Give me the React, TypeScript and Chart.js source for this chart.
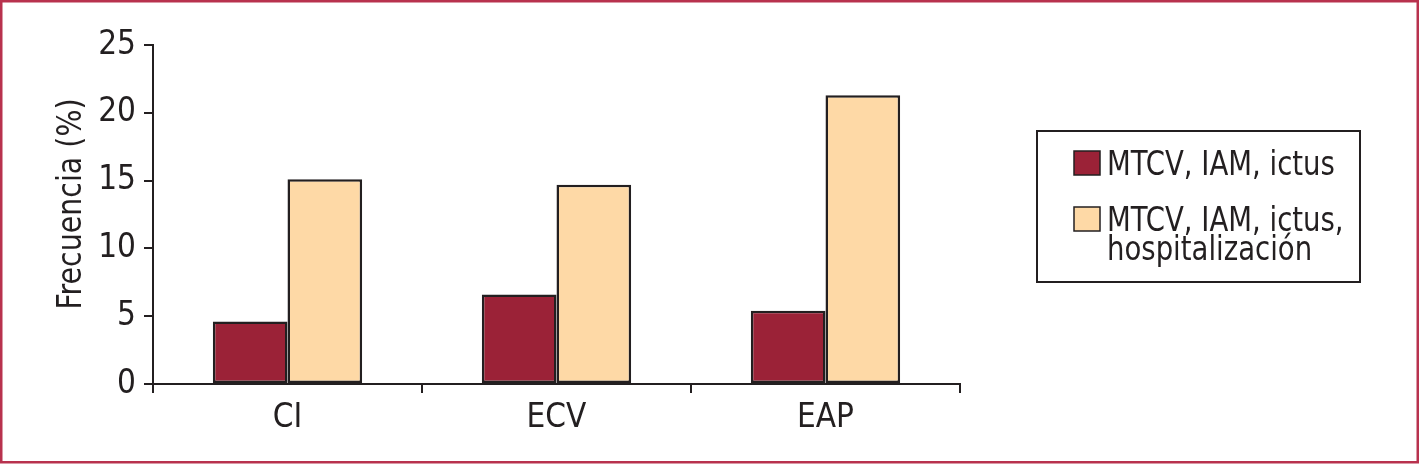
import React, { useEffect, useRef } from 'react';
import { Chart, registerables } from 'chart.js';

Chart.register(...registerables);

// ---- Data ----
const categories: string[] = ['CI', 'ECV', 'EAP'];
const seriesLabels: string[][] = [['MTCV, IAM, ictus'], ['MTCV, IAM, ictus,', 'hospitalización']];
const seriesPrimary: number[] = [4.6, 6.6, 5.4];
const seriesSecondary: number[] = [15.1, 14.7, 21.3];
const yTickValues: number[] = [0, 5, 10, 15, 20, 25];
const yAxisTitle = 'Frecuencia (%)';

// ---- Styles ----
const FONT = "'Liberation Sans Narrow', 'Arial Narrow', 'DejaVu Sans Condensed', sans-serif";
const INK = '#231f20';
const DARK = '#9b2237';
const LIGHT = '#fed9a6';
const FRAME = '#b8324e';

const framePlugin = {
  id: 'frame',
  beforeDraw(chart: any) {
    const { ctx, width, height } = chart;
    ctx.save();
    ctx.fillStyle = '#ffffff';
    ctx.fillRect(0, 0, width, height);
    ctx.strokeStyle = FRAME;
    ctx.lineWidth = 2.5;
    ctx.strokeRect(1.25, 1.25, width - 3.5, height - 3);
    ctx.restore();
  },
};

const yTitlePlugin = {
  id: 'yTitle',
  afterDraw(chart: any) {
    const { ctx } = chart;
    ctx.save();
    ctx.translate(72, 204);
    ctx.rotate(-Math.PI / 2);
    ctx.scale(0.93, 1);
    ctx.font = `34px ${FONT}`;
    ctx.fillStyle = INK;
    ctx.textAlign = 'center';
    ctx.textBaseline = 'middle';
    ctx.fillText(yAxisTitle, 0, 0);
    ctx.restore();
  },
};

const boxLegendPlugin = {
  id: 'boxLegend',
  afterDraw(chart: any) {
    const { ctx } = chart;
    ctx.save();
    ctx.strokeStyle = INK;
    ctx.lineWidth = 2;
    ctx.strokeRect(1037, 131, 323, 151);
    const swatchTops = [151, 207];
    const baselines = [[175], [231, 260]];
    chart.data.datasets.forEach((ds: any, i: number) => {
      ctx.fillStyle = ds.backgroundColor;
      ctx.fillRect(1074, swatchTops[i], 26, 24);
      ctx.lineWidth = 1.5;
      ctx.strokeStyle = INK;
      ctx.strokeRect(1074, swatchTops[i], 26, 24);
      const lines: string[] = seriesLabels[i];
      lines.forEach((line, j) => {
        ctx.save();
        ctx.translate(1107, baselines[i][j]);
        ctx.scale(0.9, 1);
        ctx.font = `34px ${FONT}`;
        ctx.fillStyle = INK;
        ctx.textAlign = 'left';
        ctx.textBaseline = 'alphabetic';
        ctx.fillText(line, 0, 0);
        ctx.restore();
      });
    });
    ctx.restore();
  },
};

export default function App() {
  const canvasRef = useRef<HTMLCanvasElement | null>(null);

  useEffect(() => {
    document.body.style.margin = '0';
    const canvas = canvasRef.current;
    if (!canvas) return;
    const chart = new Chart(canvas, {
      type: 'bar',
      data: {
        labels: categories,
        datasets: [
          {
            label: seriesLabels[0].join(' '),
            data: seriesPrimary,
            backgroundColor: DARK,
            borderColor: INK,
            borderWidth: 2.5,
            borderSkipped: false,
            categoryPercentage: 0.555,
            barPercentage: 1,
          },
          {
            label: seriesLabels[1].join(' '),
            data: seriesSecondary,
            backgroundColor: LIGHT,
            borderColor: INK,
            borderWidth: 2.5,
            borderSkipped: false,
            categoryPercentage: 0.555,
            barPercentage: 1,
          },
        ],
      },
      options: {
        animation: false,
        responsive: false,
        maintainAspectRatio: false,
        layout: { padding: { left: 0, right: 460, top: 45, bottom: 0 } },
        plugins: {
          legend: { display: false },
          tooltip: { enabled: false },
        },
        scales: {
          x: {
            afterFit(scale: any) {
              scale.height = 80;
            },
            grid: {
              offset: true,
              drawOnChartArea: false,
              tickLength: 9,
              color: INK,
              lineWidth: 2,
            },
            border: { color: INK, width: 2 },
            ticks: {
              color: INK,
              padding: 6,
              font: { family: FONT, size: 33 },
            },
          },
          y: {
            min: 0,
            max: 25,
            afterFit(scale: any) {
              scale.width = 153;
            },
            afterBuildTicks(scale: any) {
              scale.ticks = yTickValues.map((v) => ({ value: v }));
            },
            grid: {
              drawOnChartArea: false,
              tickLength: 9,
              color: INK,
              lineWidth: 2,
            },
            border: { color: INK, width: 2 },
            ticks: {
              color: INK,
              padding: 8,
              font: { family: FONT, size: 33 },
            },
            title: { display: false },
          },
        },
      },
      plugins: [framePlugin, yTitlePlugin, boxLegendPlugin],
    });
    return () => chart.destroy();
  }, []);

  return (
    <div style={{ width: 1420, height: 464 }}>
      <canvas ref={canvasRef} width={1420} height={464} style={{ display: 'block' }} />
    </div>
  );
}
